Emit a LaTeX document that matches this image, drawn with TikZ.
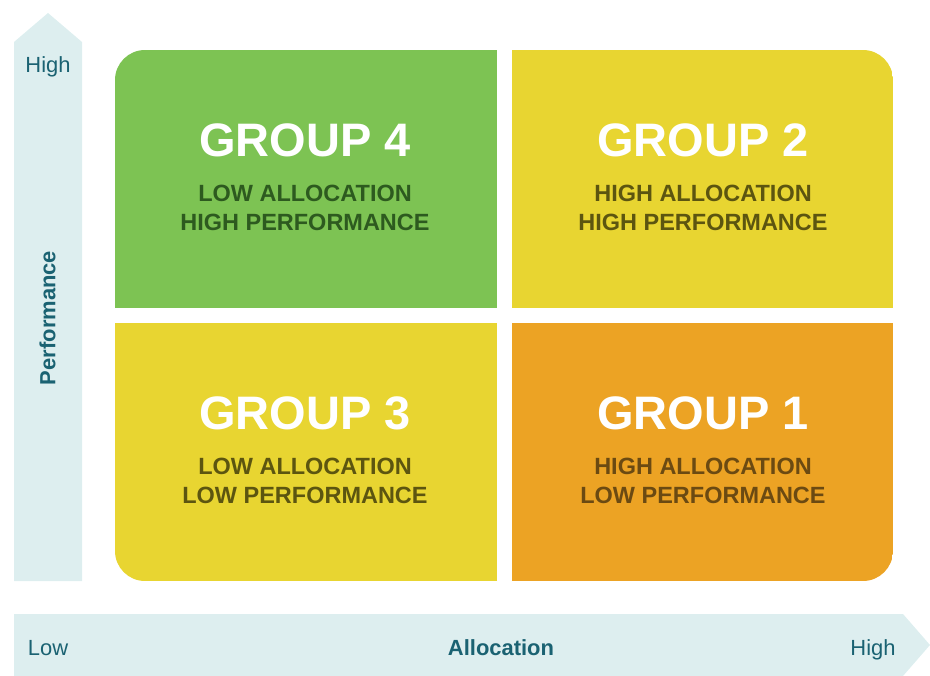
\documentclass[tikz,border=0pt]{standalone}
\usepackage{fontspec}
\setmainfont{Liberation Sans}
\definecolor{axisfill}{HTML}{DDEEEF}
\definecolor{axistext}{HTML}{1A6272}
\definecolor{grpgreen}{HTML}{7DC353}
\definecolor{grpyellow}{HTML}{E8D531}
\definecolor{grporange}{HTML}{ECA324}
\definecolor{subgreen}{HTML}{2D5A1F}
\definecolor{subyellow}{HTML}{5C5510}
\definecolor{suborange}{HTML}{6B4A12}

\begin{document}
\begin{tikzpicture}[x=0.025cm,y=-0.025cm,
    title/.style={text=white,font=\bfseries\fontsize{33.4}{36}\selectfont},
    sub/.style={align=center,font=\bfseries\fontsize{16.7}{20.6}\selectfont},
    axislabel/.style={text=axistext,text height=1.5ex,text depth=.3ex,font=\fontsize{15.6}{18}\selectfont}]
        \useasboundingbox (0,0) rectangle (930,676);
        % axes
        \fill[axisfill] (14,581) -- (14,42) -- (48,13) -- (82,42) -- (82,581) -- cycle;
        \fill[axisfill] (14,614) -- (903,614) -- (930,645) -- (903,676) -- (14,676) -- cycle;
        \node[axislabel] (yhigh) at (48,68) {High};
        \node[axislabel,font=\bfseries\fontsize{15.6}{18}\selectfont,rotate=90] (yname) at (51,318) {Performance};
        \node[axislabel] (xlow) at (48,651) {Low};
        \node[axislabel,font=\bfseries\fontsize{15.6}{18}\selectfont] (xname) at (501,651) {Allocation};
        \node[axislabel] (xhigh) at (873,651) {High};
        % quadrants
        \begin{scope}
          \clip[rounded corners=0.75cm] (115,50) rectangle (893,581);
          \fill[grpgreen]  (115, 50) rectangle (497,308);
          \fill[grpyellow] (512, 50) rectangle (893,308);
          \fill[grpyellow] (115,323) rectangle (497,581);
          \fill[grporange] (512,323) rectangle (893,581);
        \end{scope}
        \node[title] (g4) at (305,140) {GROUP 4};
        \node[sub,text=subgreen] (g4sub) at (305,208) {LOW ALLOCATION\\HIGH PERFORMANCE};
        \node[title] (g2) at (703,140) {GROUP 2};
        \node[sub,text=subyellow] (g2sub) at (703,208) {HIGH ALLOCATION\\HIGH PERFORMANCE};
        \node[title] (g3) at (305,413) {GROUP 3};
        \node[sub,text=subyellow] (g3sub) at (305,481) {LOW ALLOCATION\\LOW PERFORMANCE};
        \node[title] (g1) at (703,413) {GROUP 1};
        \node[sub,text=suborange] (g1sub) at (703,481) {HIGH ALLOCATION\\LOW PERFORMANCE};
      \end{tikzpicture}
\end{document}
